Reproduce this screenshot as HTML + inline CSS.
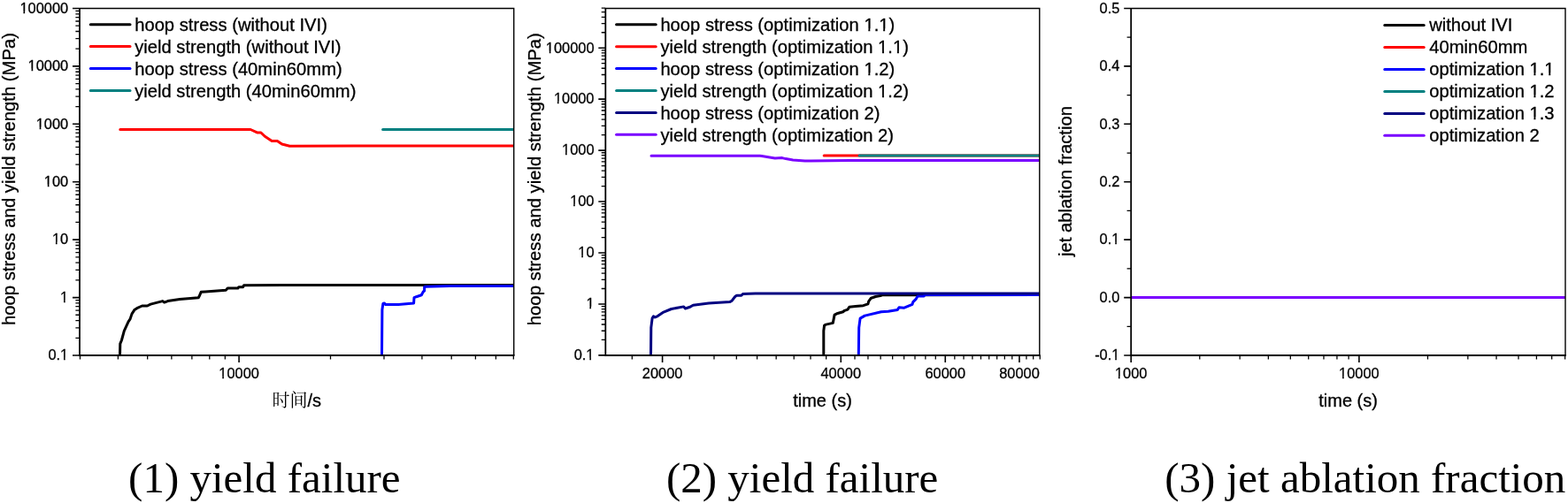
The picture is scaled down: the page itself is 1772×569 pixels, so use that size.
<!DOCTYPE html>
<html><head><meta charset="utf-8"><title>yield failure and jet ablation fraction</title>
<style>html,body{margin:0;padding:0;background:#fff;}body{width:1772px;height:569px;overflow:hidden;}svg{display:block;}</style>
</head><body>
<svg width="1772" height="569" viewBox="0 0 1772 569" font-family="'Liberation Sans', Arial, sans-serif" fill="#000">
<style>text{stroke:#000;stroke-width:0.3px;paint-order:stroke} text.cap{stroke:none}</style>
<rect width="1772" height="569" fill="#fff"/>
<defs><mask id="one" maskUnits="userSpaceOnUse" x="0" y="0" width="1772" height="569"><rect width="1772" height="569" fill="#fff"/><rect x="68.22" y="404.77" width="3.79" height="3.23" fill="#000"/><rect x="73.70" y="404.77" width="3.71" height="3.23" fill="#000"/><rect x="68.23" y="339.77" width="3.79" height="3.23" fill="#000"/><rect x="73.72" y="339.77" width="3.71" height="3.23" fill="#000"/><rect x="59.12" y="273.77" width="3.79" height="3.23" fill="#000"/><rect x="64.61" y="273.77" width="3.71" height="3.23" fill="#000"/><rect x="50.00" y="208.77" width="3.79" height="3.23" fill="#000"/><rect x="55.48" y="208.77" width="3.71" height="3.23" fill="#000"/><rect x="40.89" y="143.77" width="3.79" height="3.23" fill="#000"/><rect x="46.38" y="143.77" width="3.71" height="3.23" fill="#000"/><rect x="31.76" y="77.77" width="3.79" height="3.23" fill="#000"/><rect x="37.25" y="77.77" width="3.71" height="3.23" fill="#000"/><rect x="22.65" y="12.77" width="3.79" height="3.23" fill="#000"/><rect x="28.14" y="12.77" width="3.71" height="3.23" fill="#000"/><rect x="247.46" y="425.77" width="3.79" height="3.23" fill="#000"/><rect x="252.95" y="425.77" width="3.71" height="3.23" fill="#000"/><rect x="662.52" y="404.77" width="3.79" height="3.23" fill="#000"/><rect x="668.00" y="404.77" width="3.71" height="3.23" fill="#000"/><rect x="662.53" y="346.77" width="3.79" height="3.23" fill="#000"/><rect x="668.02" y="346.77" width="3.71" height="3.23" fill="#000"/><rect x="653.42" y="288.77" width="3.79" height="3.23" fill="#000"/><rect x="658.91" y="288.77" width="3.71" height="3.23" fill="#000"/><rect x="644.30" y="230.77" width="3.79" height="3.23" fill="#000"/><rect x="649.78" y="230.77" width="3.71" height="3.23" fill="#000"/><rect x="635.19" y="172.77" width="3.79" height="3.23" fill="#000"/><rect x="640.68" y="172.77" width="3.71" height="3.23" fill="#000"/><rect x="626.06" y="114.77" width="3.79" height="3.23" fill="#000"/><rect x="631.55" y="114.77" width="3.71" height="3.23" fill="#000"/><rect x="616.95" y="57.77" width="3.79" height="3.23" fill="#000"/><rect x="622.44" y="57.77" width="3.71" height="3.23" fill="#000"/><rect x="976.72" y="32.48" width="4.59" height="3.51" fill="#000"/><rect x="983.33" y="32.48" width="4.49" height="3.51" fill="#000"/><rect x="993.55" y="32.48" width="4.59" height="3.51" fill="#000"/><rect x="1000.16" y="32.48" width="4.49" height="3.51" fill="#000"/><rect x="992.43" y="57.48" width="4.59" height="3.51" fill="#000"/><rect x="999.04" y="57.48" width="4.49" height="3.51" fill="#000"/><rect x="1009.27" y="57.48" width="4.59" height="3.51" fill="#000"/><rect x="1015.88" y="57.48" width="4.49" height="3.51" fill="#000"/><rect x="976.72" y="82.48" width="4.59" height="3.51" fill="#000"/><rect x="983.33" y="82.48" width="4.49" height="3.51" fill="#000"/><rect x="992.43" y="107.48" width="4.59" height="3.51" fill="#000"/><rect x="999.04" y="107.48" width="4.49" height="3.51" fill="#000"/><rect x="1256.43" y="404.77" width="3.79" height="3.23" fill="#000"/><rect x="1261.92" y="404.77" width="3.71" height="3.23" fill="#000"/><rect x="1256.42" y="273.77" width="3.79" height="3.23" fill="#000"/><rect x="1261.90" y="273.77" width="3.71" height="3.23" fill="#000"/><rect x="1260.12" y="425.77" width="3.79" height="3.23" fill="#000"/><rect x="1265.61" y="425.77" width="3.71" height="3.23" fill="#000"/><rect x="1513.26" y="425.77" width="3.79" height="3.23" fill="#000"/><rect x="1518.75" y="425.77" width="3.71" height="3.23" fill="#000"/><rect x="1728.82" y="82.48" width="4.59" height="3.51" fill="#000"/><rect x="1735.43" y="82.48" width="4.49" height="3.51" fill="#000"/><rect x="1745.66" y="82.48" width="4.59" height="3.51" fill="#000"/><rect x="1752.27" y="82.48" width="4.49" height="3.51" fill="#000"/><rect x="1728.82" y="107.48" width="4.59" height="3.51" fill="#000"/><rect x="1735.43" y="107.48" width="4.49" height="3.51" fill="#000"/><rect x="1728.82" y="132.49" width="4.59" height="3.51" fill="#000"/><rect x="1735.43" y="132.49" width="4.49" height="3.51" fill="#000"/></mask><clipPath id="c1"><rect x="90" y="9.5" width="490.70000000000005" height="392.5"/></clipPath><clipPath id="c2"><rect x="684.3" y="9.5" width="490.5" height="392.5"/></clipPath><clipPath id="c3"><rect x="1278.2" y="9.5" width="490.79999999999995" height="392.5"/></clipPath></defs>
<path d="M82 402H90M82 336.58H90M82 271.16H90M82 205.74H90M82 140.32H90M82 74.9H90M82 9.48H90" stroke="#000" stroke-width="1.6" fill="none"/>
<path d="M85.4 382.31H90M85.4 370.79H90M85.4 362.61H90M85.4 356.27H90M85.4 351.09H90M85.4 346.71H90M85.4 342.92H90M85.4 339.57H90M85.4 316.89H90M85.4 305.37H90M85.4 297.19H90M85.4 290.85H90M85.4 285.67H90M85.4 281.29H90M85.4 277.5H90M85.4 274.15H90M85.4 251.47H90M85.4 239.95H90M85.4 231.77H90M85.4 225.43H90M85.4 220.25H90M85.4 215.87H90M85.4 212.08H90M85.4 208.73H90M85.4 186.05H90M85.4 174.53H90M85.4 166.35H90M85.4 160.01H90M85.4 154.83H90M85.4 150.45H90M85.4 146.66H90M85.4 143.31H90M85.4 120.63H90M85.4 109.11H90M85.4 100.93H90M85.4 94.59H90M85.4 89.41H90M85.4 85.03H90M85.4 81.24H90M85.4 77.89H90M85.4 55.21H90M85.4 43.69H90M85.4 35.51H90M85.4 29.17H90M85.4 23.99H90M85.4 19.61H90M85.4 15.82H90M85.4 12.47H90" stroke="#000" stroke-width="1.3" fill="none"/>
<text mask="url(#one)" x="77.2" y="407.3" text-anchor="end" font-size="16.4">0.1</text>
<text mask="url(#one)" x="77.2" y="341.88" text-anchor="end" font-size="16.4">1</text>
<text mask="url(#one)" x="77.2" y="276.46" text-anchor="end" font-size="16.4">10</text>
<text mask="url(#one)" x="77.2" y="211.04" text-anchor="end" font-size="16.4">100</text>
<text mask="url(#one)" x="77.2" y="145.62" text-anchor="end" font-size="16.4">1000</text>
<text mask="url(#one)" x="77.2" y="80.2" text-anchor="end" font-size="16.4">10000</text>
<text mask="url(#one)" x="77.2" y="14.78" text-anchor="end" font-size="16.4">100000</text>
<path d="M270.1 402V410" stroke="#000" stroke-width="1.6" fill="none"/>
<path d="M90.49 402V406.6M133.41 402V406.6M166.7 402V406.6M193.89 402V406.6M216.89 402V406.6M236.81 402V406.6M254.38 402V406.6M373.5 402V406.6M433.99 402V406.6M476.91 402V406.6M510.2 402V406.6M537.39 402V406.6M560.39 402V406.6M580.31 402V406.6" stroke="#000" stroke-width="1.3" fill="none"/>
<text mask="url(#one)" x="270.1" y="428.2" text-anchor="middle" font-size="16.4">10000</text>
<g clip-path="url(#c1)">
<path d="M135.5 402.5 L135.8 388.9 L137.4 385 L140.3 374.4 L145.1 363.8 L147.1 360.9 L149 355.1 L151.9 350.6 L154.8 348.7 L160.6 346 L166.4 346 L170.2 344.1 L183.8 340.6 L185.7 342.1 L189.6 340.6 L203.1 338.6 L224.3 336.7 L225.3 334.8 L227.2 330.3 L232.1 330 L255.3 328.2 L257.2 326.1 L268.8 326.1 L269.8 324.7 L274.6 324.7 L275.6 322.8 L320 322.5 L400 322.6 L582 322.6" stroke="#000000" stroke-width="3" fill="none" stroke-linejoin="round" stroke-linecap="round"/>
<path d="M135.8 146.5 L283.1 146.5 L290.5 149.9 L294.9 150 L299.3 154.3 L307.2 159.5 L313.4 159.5 L318.6 163 L327.4 165.2 L400 165.1 L582 165" stroke="#ff0000" stroke-width="3" fill="none" stroke-linejoin="round" stroke-linecap="round"/>
<path d="M431.5 402.5 L431.9 350.2 L432.9 343.5 L434.4 342.9 L435.7 344.4 L450.2 344.4 L467.6 342.9 L468 336.7 L470.5 335.7 L476.3 333.8 L478.3 330 L479.6 329 L479.6 324.7 L481.2 324.2 L508.2 323.4 L582 323.6" stroke="#0000ff" stroke-width="3" fill="none" stroke-linejoin="round" stroke-linecap="round"/>
<path d="M432.6 146.4 L582 146.4" stroke="#008080" stroke-width="3" fill="none" stroke-linejoin="round" stroke-linecap="round"/>
</g>
<path d="M90 9.5H580.7V402" stroke="#000" stroke-width="1.4" fill="none" stroke-linejoin="miter"/>
<line x1="90" y1="8.9" x2="90" y2="402.85" stroke="#000" stroke-width="1.8"/>
<line x1="89.1" y1="402" x2="581.5" y2="402" stroke="#000" stroke-width="1.8"/>
<line x1="102.3" y1="27.7" x2="147" y2="27.7" stroke="#000000" stroke-width="3" stroke-linecap="round"/>
<text x="152.2" y="34.9" font-size="20.2">hoop stress (without IVI)</text>
<line x1="102.3" y1="52.6" x2="147" y2="52.6" stroke="#ff0000" stroke-width="3" stroke-linecap="round"/>
<text x="152.2" y="59.8" font-size="20.2">yield strength (without IVI)</text>
<line x1="102.3" y1="77.5" x2="147" y2="77.5" stroke="#0000ff" stroke-width="3" stroke-linecap="round"/>
<text x="152.2" y="84.7" font-size="20.2">hoop stress (40min60mm)</text>
<line x1="102.3" y1="102.4" x2="147" y2="102.4" stroke="#008080" stroke-width="3" stroke-linecap="round"/>
<text x="152.2" y="109.6" font-size="20.2">yield strength (40min60mm)</text>
<text transform="translate(16.9 202.5) rotate(-90)" text-anchor="middle" font-size="20.25">hoop stress and yield strength (MPa)</text>
<text class="cap" x="335.35" y="459.9" text-anchor="middle" font-size="20" font-family="'Liberation Sans', 'Noto Serif CJK SC', serif">时间<tspan style="stroke:#000">/s</tspan></text>
<path d="M676.3 401.9H684.3M676.3 343.95H684.3M676.3 286H684.3M676.3 228.05H684.3M676.3 170.1H684.3M676.3 112.15H684.3M676.3 54.2H684.3" stroke="#000" stroke-width="1.6" fill="none"/>
<path d="M679.6999999999999 384.46H684.3M679.6999999999999 374.25H684.3M679.6999999999999 367.01H684.3M679.6999999999999 361.39H684.3M679.6999999999999 356.81H684.3M679.6999999999999 352.93H684.3M679.6999999999999 349.57H684.3M679.6999999999999 346.6H684.3M679.6999999999999 326.51H684.3M679.6999999999999 316.3H684.3M679.6999999999999 309.06H684.3M679.6999999999999 303.44H684.3M679.6999999999999 298.86H684.3M679.6999999999999 294.98H684.3M679.6999999999999 291.62H684.3M679.6999999999999 288.65H684.3M679.6999999999999 268.56H684.3M679.6999999999999 258.35H684.3M679.6999999999999 251.11H684.3M679.6999999999999 245.49H684.3M679.6999999999999 240.91H684.3M679.6999999999999 237.03H684.3M679.6999999999999 233.67H684.3M679.6999999999999 230.7H684.3M679.6999999999999 210.61H684.3M679.6999999999999 200.4H684.3M679.6999999999999 193.16H684.3M679.6999999999999 187.54H684.3M679.6999999999999 182.96H684.3M679.6999999999999 179.08H684.3M679.6999999999999 175.72H684.3M679.6999999999999 172.75H684.3M679.6999999999999 152.66H684.3M679.6999999999999 142.45H684.3M679.6999999999999 135.21H684.3M679.6999999999999 129.59H684.3M679.6999999999999 125.01H684.3M679.6999999999999 121.13H684.3M679.6999999999999 117.77H684.3M679.6999999999999 114.8H684.3M679.6999999999999 94.71H684.3M679.6999999999999 84.5H684.3M679.6999999999999 77.26H684.3M679.6999999999999 71.64H684.3M679.6999999999999 67.06H684.3M679.6999999999999 63.18H684.3M679.6999999999999 59.82H684.3M679.6999999999999 56.85H684.3M679.6999999999999 36.76H684.3M679.6999999999999 26.55H684.3M679.6999999999999 19.31H684.3M679.6999999999999 13.69H684.3M679.6999999999999 9.11H684.3" stroke="#000" stroke-width="1.3" fill="none"/>
<text mask="url(#one)" x="671.5" y="407.2" text-anchor="end" font-size="16.4">0.1</text>
<text mask="url(#one)" x="671.5" y="349.25" text-anchor="end" font-size="16.4">1</text>
<text mask="url(#one)" x="671.5" y="291.3" text-anchor="end" font-size="16.4">10</text>
<text mask="url(#one)" x="671.5" y="233.35" text-anchor="end" font-size="16.4">100</text>
<text mask="url(#one)" x="671.5" y="175.4" text-anchor="end" font-size="16.4">1000</text>
<text mask="url(#one)" x="671.5" y="117.45" text-anchor="end" font-size="16.4">10000</text>
<text mask="url(#one)" x="671.5" y="59.5" text-anchor="end" font-size="16.4">100000</text>
<path d="M748.6 402V410M950.29 402V410M1068.27 402V410M1151.98 402V410" stroke="#000" stroke-width="1.6" fill="none"/>
<path d="M714.33 402V406.6M779.26 402V406.6M806.99 402V406.6M832.31 402V406.6M855.6 402V406.6M877.16 402V406.6M897.24 402V406.6M916.02 402V406.6M933.66 402V406.6M966.02 402V406.6M980.95 402V406.6M995.14 402V406.6M1008.68 402V406.6M1021.62 402V406.6M1034 402V406.6M1045.88 402V406.6M1057.29 402V406.6M1078.85 402V406.6M1089.06 402V406.6M1098.93 402V406.6M1108.47 402V406.6M1117.71 402V406.6M1126.66 402V406.6M1135.35 402V406.6M1143.78 402V406.6M1159.95 402V406.6M1167.71 402V406.6M1175.27 402V406.6" stroke="#000" stroke-width="1.3" fill="none"/>
<text x="748.6" y="428.2" text-anchor="middle" font-size="16.4">20000</text>
<text x="950.29" y="428.2" text-anchor="middle" font-size="16.4">40000</text>
<text x="1068.27" y="428.2" text-anchor="middle" font-size="16.4">60000</text>
<text x="1151.98" y="428.2" text-anchor="middle" font-size="16.4">80000</text>
<g clip-path="url(#c2)">
<path d="M930.8 402.5 L930.8 374.2 L931.6 368 L933.4 367.1 L941.3 365.4 L943.1 356.1 L945.7 354.8 L952.7 352.7 L954.5 351.3 L958 350.1 L959.8 347.3 L966.8 346.6 L975.6 345.7 L980.9 343.9 L981.7 340.8 L984.4 337.2 L989.6 335.5 L994.9 334.6 L997.6 333.7 L1044.1 333.7 L1176 333.6" stroke="#000000" stroke-width="3" fill="none" stroke-linejoin="round" stroke-linecap="round"/>
<path d="M931.2 176 L1176 176" stroke="#ff0000" stroke-width="3" fill="none" stroke-linejoin="round" stroke-linecap="round"/>
<path d="M970.3 402.5 L970.7 370.6 L972.1 360.1 L977.3 357.1 L995.8 352.7 L1003.7 352.2 L1014.3 350.4 L1016 347.8 L1021.3 348.3 L1031 344.3 L1031.8 341.6 L1035.3 338.1 L1037.1 335.1 L1044.1 335.1 L1045 333.4 L1176 333.4" stroke="#0000ff" stroke-width="3" fill="none" stroke-linejoin="round" stroke-linecap="round"/>
<path d="M971.1 176 L1176 176" stroke="#008080" stroke-width="3" fill="none" stroke-linejoin="round" stroke-linecap="round"/>
<path d="M735.5 402.5 L735.8 370.6 L737.1 360.1 L738.5 357.8 L740.2 358.9 L742.9 357.8 L749.9 353.1 L758.7 349.5 L772.7 346.9 L774.5 349 L779.8 347.3 L783.3 345.2 L800.9 342.9 L824.6 341.6 L827.2 340.2 L830.7 335.5 L832.5 334.3 L837.8 334.3 L839.5 332.5 L853.6 332 L1176 332" stroke="#000080" stroke-width="3" fill="none" stroke-linejoin="round" stroke-linecap="round"/>
<path d="M736 176.3 L858.8 176.3 L860.9 176.5 L875.8 179 L883.9 178.6 L888 179.6 L896.1 181 L909.6 181.9 L916.4 182.1 L960 181.6 L1176 181.6" stroke="#7a00ff" stroke-width="3" fill="none" stroke-linejoin="round" stroke-linecap="round"/>
</g>
<path d="M684.3 9.5H1174.8V402" stroke="#000" stroke-width="1.4" fill="none" stroke-linejoin="miter"/>
<line x1="684.3" y1="8.9" x2="684.3" y2="402.85" stroke="#000" stroke-width="1.8"/>
<line x1="683.4" y1="402" x2="1175.6" y2="402" stroke="#000" stroke-width="1.8"/>
<line x1="696.6" y1="27.8" x2="741.2" y2="27.8" stroke="#000000" stroke-width="3" stroke-linecap="round"/>
<text mask="url(#one)" x="746.4" y="35" font-size="20.2">hoop stress (optimization 1.1)</text>
<line x1="696.6" y1="52.7" x2="741.2" y2="52.7" stroke="#ff0000" stroke-width="3" stroke-linecap="round"/>
<text mask="url(#one)" x="746.4" y="59.9" font-size="20.2">yield strength (optimization 1.1)</text>
<line x1="696.6" y1="77.6" x2="741.2" y2="77.6" stroke="#0000ff" stroke-width="3" stroke-linecap="round"/>
<text mask="url(#one)" x="746.4" y="84.8" font-size="20.2">hoop stress (optimization 1.2)</text>
<line x1="696.6" y1="102.5" x2="741.2" y2="102.5" stroke="#008080" stroke-width="3" stroke-linecap="round"/>
<text mask="url(#one)" x="746.4" y="109.7" font-size="20.2">yield strength (optimization 1.2)</text>
<line x1="696.6" y1="127.4" x2="741.2" y2="127.4" stroke="#000080" stroke-width="3" stroke-linecap="round"/>
<text x="746.4" y="134.6" font-size="20.2">hoop stress (optimization 2)</text>
<line x1="696.6" y1="152.3" x2="741.2" y2="152.3" stroke="#7a00ff" stroke-width="3" stroke-linecap="round"/>
<text x="746.4" y="159.5" font-size="20.2">yield strength (optimization 2)</text>
<text transform="translate(610.9 202.7) rotate(-90)" text-anchor="middle" font-size="20.25">hoop stress and yield strength (MPa)</text>
<text x="929.55" y="459.9" text-anchor="middle" font-size="20">time (s)</text>
<path d="M1270.2 402H1278.2M1270.2 336.58H1278.2M1270.2 271.16H1278.2M1270.2 205.74H1278.2M1270.2 140.32H1278.2M1270.2 74.9H1278.2M1270.2 9.48H1278.2" stroke="#000" stroke-width="1.6" fill="none"/>
<path d="M1273.6000000000001 369.29H1278.2M1273.6000000000001 303.87H1278.2M1273.6000000000001 238.45H1278.2M1273.6000000000001 173.03H1278.2M1273.6000000000001 107.61H1278.2M1273.6000000000001 42.19H1278.2" stroke="#000" stroke-width="1.3" fill="none"/>
<text mask="url(#one)" x="1265.4" y="407.3" text-anchor="end" font-size="16.4">-0.1</text>
<text x="1265.4" y="341.88" text-anchor="end" font-size="16.4">0.0</text>
<text mask="url(#one)" x="1265.4" y="276.46" text-anchor="end" font-size="16.4">0.1</text>
<text x="1265.4" y="211.04" text-anchor="end" font-size="16.4">0.2</text>
<text x="1265.4" y="145.62" text-anchor="end" font-size="16.4">0.3</text>
<text x="1265.4" y="80.2" text-anchor="end" font-size="16.4">0.4</text>
<text x="1265.4" y="14.78" text-anchor="end" font-size="16.4">0.5</text>
<path d="M1278.2 402V410M1535.9 402V410" stroke="#000" stroke-width="1.6" fill="none"/>
<path d="M1355.78 402V406.6M1401.15 402V406.6M1433.35 402V406.6M1458.32 402V406.6M1478.73 402V406.6M1495.98 402V406.6M1510.93 402V406.6M1524.11 402V406.6M1613.48 402V406.6M1658.85 402V406.6M1691.05 402V406.6M1716.02 402V406.6M1736.43 402V406.6M1753.68 402V406.6M1768.63 402V406.6" stroke="#000" stroke-width="1.3" fill="none"/>
<text mask="url(#one)" x="1278.2" y="428.2" text-anchor="middle" font-size="16.4">1000</text>
<text mask="url(#one)" x="1535.9" y="428.2" text-anchor="middle" font-size="16.4">10000</text>
<g clip-path="url(#c3)">
<path d="M1277 336.5 L1770 336.5" stroke="#000000" stroke-width="3" fill="none" stroke-linejoin="round" stroke-linecap="round"/>
<path d="M1277 336.5 L1770 336.5" stroke="#ff0000" stroke-width="3" fill="none" stroke-linejoin="round" stroke-linecap="round"/>
<path d="M1277 336.5 L1770 336.5" stroke="#0000ff" stroke-width="3" fill="none" stroke-linejoin="round" stroke-linecap="round"/>
<path d="M1277 336.5 L1770 336.5" stroke="#008080" stroke-width="3" fill="none" stroke-linejoin="round" stroke-linecap="round"/>
<path d="M1277 336.5 L1770 336.5" stroke="#000080" stroke-width="3" fill="none" stroke-linejoin="round" stroke-linecap="round"/>
<path d="M1277 336.5 L1770 336.5" stroke="#7a00ff" stroke-width="3" fill="none" stroke-linejoin="round" stroke-linecap="round"/>
</g>
<path d="M1278.2 9.5H1769V402" stroke="#000" stroke-width="1.4" fill="none" stroke-linejoin="miter"/>
<line x1="1278.2" y1="8.9" x2="1278.2" y2="402.85" stroke="#000" stroke-width="1.8"/>
<line x1="1277.3" y1="402" x2="1769.8" y2="402" stroke="#000" stroke-width="1.8"/>
<line x1="1564.8" y1="28.6" x2="1609.2" y2="28.6" stroke="#000000" stroke-width="3" stroke-linecap="round"/>
<text x="1615.2" y="35.2" font-size="20.2">without IVI</text>
<line x1="1564.8" y1="53.55" x2="1609.2" y2="53.55" stroke="#ff0000" stroke-width="3" stroke-linecap="round"/>
<text x="1615.2" y="60.15" font-size="20.2">40min60mm</text>
<line x1="1564.8" y1="78.5" x2="1609.2" y2="78.5" stroke="#0000ff" stroke-width="3" stroke-linecap="round"/>
<text mask="url(#one)" x="1615.2" y="85.1" font-size="20.2">optimization 1.1</text>
<line x1="1564.8" y1="103.45" x2="1609.2" y2="103.45" stroke="#008080" stroke-width="3" stroke-linecap="round"/>
<text mask="url(#one)" x="1615.2" y="110.05" font-size="20.2">optimization 1.2</text>
<line x1="1564.8" y1="128.4" x2="1609.2" y2="128.4" stroke="#000080" stroke-width="3" stroke-linecap="round"/>
<text mask="url(#one)" x="1615.2" y="135" font-size="20.2">optimization 1.3</text>
<line x1="1564.8" y1="153.35" x2="1609.2" y2="153.35" stroke="#7a00ff" stroke-width="3" stroke-linecap="round"/>
<text x="1615.2" y="159.95" font-size="20.2">optimization 2</text>
<text transform="translate(1211.2 205) rotate(-90)" text-anchor="middle" font-size="20.25">jet ablation fraction</text>
<text x="1523.6" y="459.9" text-anchor="middle" font-size="20">time (s)</text>
<text x="145.1" y="556.6" class="cap" font-family="'Liberation Serif', 'Times New Roman', serif" font-size="49">(1) yield failure</text>
<text x="752.9" y="556.6" class="cap" font-family="'Liberation Serif', 'Times New Roman', serif" font-size="49">(2) yield failure</text>
<text x="1316.3" y="556.6" class="cap" font-family="'Liberation Serif', 'Times New Roman', serif" font-size="49">(3) jet ablation fraction</text>
</svg>
</body></html>
